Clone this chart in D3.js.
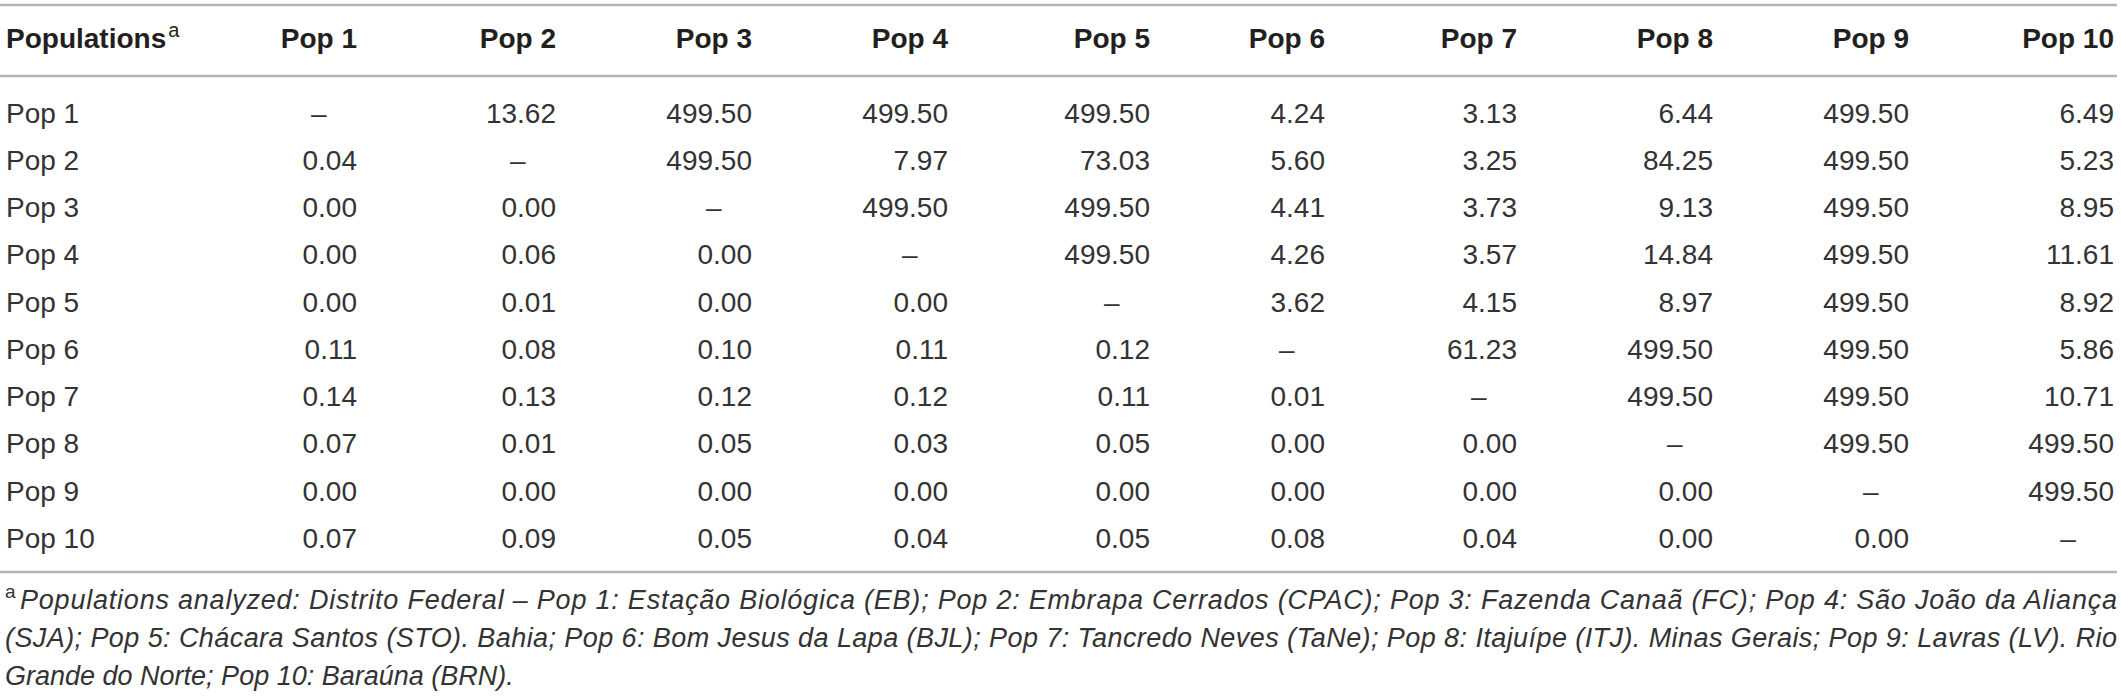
<!DOCTYPE html>
<html>
<head>
<meta charset="utf-8">
<script src="https://cdn.jsdelivr.net/npm/d3@7/dist/d3.min.js"></script>
<style>
  html, body { margin: 0; padding: 0; background: #fff; }
  svg { display: block; }
</style>
</head>
<body>
<div id="chart"></div>
<script>
// populations (rows and columns)
const rowLabels = ["Pop 1", "Pop 2", "Pop 3", "Pop 4", "Pop 5", "Pop 6", "Pop 7", "Pop 8", "Pop 9", "Pop 10"];
const colLabels = ["Pop 1", "Pop 2", "Pop 3", "Pop 4", "Pop 5", "Pop 6", "Pop 7", "Pop 8", "Pop 9", "Pop 10"];

// pairwise values, null = diagonal (–)
const pop1  = [null, 13.62, 499.50, 499.50, 499.50, 4.24, 3.13, 6.44, 499.50, 6.49];
const pop2  = [0.04, null, 499.50, 7.97, 73.03, 5.60, 3.25, 84.25, 499.50, 5.23];
const pop3  = [0.00, 0.00, null, 499.50, 499.50, 4.41, 3.73, 9.13, 499.50, 8.95];
const pop4  = [0.00, 0.06, 0.00, null, 499.50, 4.26, 3.57, 14.84, 499.50, 11.61];
const pop5  = [0.00, 0.01, 0.00, 0.00, null, 3.62, 4.15, 8.97, 499.50, 8.92];
const pop6  = [0.11, 0.08, 0.10, 0.11, 0.12, null, 61.23, 499.50, 499.50, 5.86];
const pop7  = [0.14, 0.13, 0.12, 0.12, 0.11, 0.01, null, 499.50, 499.50, 10.71];
const pop8  = [0.07, 0.01, 0.05, 0.03, 0.05, 0.00, 0.00, null, 499.50, 499.50];
const pop9  = [0.00, 0.00, 0.00, 0.00, 0.00, 0.00, 0.00, 0.00, null, 499.50];
const pop10 = [0.07, 0.09, 0.05, 0.04, 0.05, 0.08, 0.04, 0.00, 0.00, null];

const headerFirst = "Populations";
const footnoteLines = [
  "Populations analyzed: Distrito Federal – Pop 1: Estação Biológica (EB); Pop 2: Embrapa Cerrados (CPAC); Pop 3: Fazenda Canaã (FC); Pop 4: São João da Aliança",
  "(SJA); Pop 5: Chácara Santos (STO). Bahia; Pop 6: Bom Jesus da Lapa (BJL); Pop 7: Tancredo Neves (TaNe); Pop 8: Itajuípe (ITJ). Minas Gerais; Pop 9: Lavras (LV). Rio",
  "Grande do Norte; Pop 10: Baraúna (BRN)."
];

const matrix = [pop1, pop2, pop3, pop4, pop5, pop6, pop7, pop8, pop9, pop10];

const width = 2121, height = 699;
const fmt = d3.format(".2f");

const svg = d3.select('#chart').append('svg')
  .attr('width', width)
  .attr('height', height);

// column right edges (table layout)
const xCol = d3.scaleOrdinal()
  .domain(colLabels)
  .range([357, 556, 752, 948, 1150, 1325, 1517, 1713, 1909, 2114]);

const yRow = d3.scalePoint()
  .domain(rowLabels)
  .range([113, 538]);

const ruleColor = '#b3b3b3';
const left = 0, right = 2117;

// rules
svg.append('g')
   .attr('class', 'rules')
   .selectAll('line')
   .data([5, 76, 572])
   .enter()
   .append('line')
   .attr('x1', left)
   .attr('x2', right)
   .attr('y1', d => d)
   .attr('y2', d => d)
   .attr('stroke', ruleColor)
   .attr('stroke-width', 2.5);

// header
const header = svg.append('g')
  .attr('class', 'header')
  .style('font-family', '"Liberation Sans", Arial, sans-serif')
  .style('font-size', '28px')
  .attr('fill', '#231f20');

const h0 = header.append('text')
  .attr('x', 6)
  .attr('y', 38)
  .attr('dy', '0.35em');
h0.append('tspan').attr('font-weight', 'bold').text(headerFirst);
h0.append('tspan').attr('font-size', '20px').attr('dx', 2).attr('dy', '-0.55em').text('a');

header.selectAll('text.col')
  .data(colLabels)
  .enter()
  .append('text')
  .attr('class', 'col')
  .attr('font-weight', 'bold')
  .attr('text-anchor', 'end')
  .attr('x', d => xCol(d))
  .attr('y', 38)
  .attr('dy', '0.35em')
  .text(d => d);

// body
const body = svg.append('g')
  .attr('class', 'body')
  .style('font-family', '"Liberation Sans", Arial, sans-serif')
  .style('font-size', '28px')
  .attr('fill', '#333');

const rows = body.selectAll('g.row')
  .data(rowLabels.map((r, i) => ({ label: r, values: matrix[i] })))
  .enter()
  .append('g')
  .attr('class', 'row')
  .attr('transform', d => `translate(0,${yRow(d.label)})`);

rows.append('text')
  .attr('x', 6)
  .attr('dy', '0.35em')
  .text(d => d.label);

// header widths to center the dashes under the column titles
const headWidth = {};
header.selectAll('text.col').each(function(d) {
  headWidth[d] = this.getComputedTextLength();
});

rows.selectAll('text.val')
  .data(d => d.values.map((v, j) => ({ col: colLabels[j], v: v })))
  .enter()
  .append('text')
  .attr('class', 'val')
  .attr('text-anchor', d => d.v === null ? 'middle' : 'end')
  .attr('x', d => d.v === null ? xCol(d.col) - headWidth[d.col] / 2 : xCol(d.col))
  .attr('dy', '0.35em')
  .text(d => d.v === null ? '–' : fmt(d.v));

// footnote
const foot = svg.append('g')
  .attr('class', 'footnote')
  .style('font-family', '"Liberation Sans", Arial, sans-serif')
  .style('font-size', '27px')
  .style('font-style', 'italic')
  .attr('fill', '#333');

const fy = d3.scaleLinear().domain([0, 2]).range([600, 676]);

foot.append('text')
  .attr('x', 5)
  .attr('y', fy(0))
  .attr('dy', '-0.1em')
  .style('font-style', 'normal')
  .attr('font-size', '19px')
  .text('a');

foot.selectAll('text.line')
  .data(footnoteLines)
  .enter()
  .append('text')
  .attr('class', 'line')
  .attr('x', (d, i) => i === 0 ? 20 : 5)
  .attr('y', (d, i) => fy(i))
  .attr('dy', '0.35em')
  .attr('textLength', (d, i) => i < 2 ? (i === 0 ? right - 20 : right - 5) : null)
  .attr('lengthAdjust', 'spacing')
  .text(d => d);
</script>
</body>
</html>
